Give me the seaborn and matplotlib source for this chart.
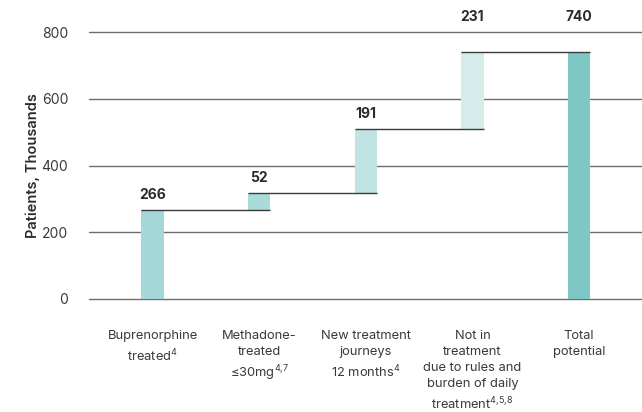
import matplotlib
matplotlib.use("Agg")
import matplotlib.pyplot as plt
import seaborn as sns
import numpy as np
import pandas as pd

# Waterfall steps (patients, thousands)
categories = [
    "Buprenorphine\ntreated$^{4}$",
    "Methadone-\ntreated\n≤30mg$^{4{,}7}$",
    "New treatment\njourneys\n12 months$^{4}$",
    "Not in\ntreatment\ndue to rules and\nburden of daily\ntreatment$^{4{,}5{,}8}$",
    "Total\npotential",
]
increments = [266, 52, 191, 231, 740]
is_total = [False, False, False, False, True]
value_labels = ["266", "52", "191", "231", "740"]
bar_colors = ["#a3d7d8", "#a9dbd8", "#c0e4e3", "#d6ecea", "#7ec7c5"]
y_ticks = [0, 200, 400, 600, 800]

# floating bases: running total for steps, zero for the total bar
bases = []
running = 0
for inc, tot in zip(increments, is_total):
    if tot:
        bases.append(0)
    else:
        bases.append(running)
        running += inc
tops = [b + h for b, h in zip(bases, increments)]

sns.set_theme(style="white")
plt.rcParams["font.family"] = ["Inter", "DejaVu Sans"]
plt.rcParams["mathtext.fontset"] = "custom"
plt.rcParams["mathtext.rm"] = "Inter"
plt.rcParams["mathtext.it"] = "Inter"
plt.rcParams["mathtext.bf"] = "Inter:bold"

fig = plt.figure(figsize=(6.42, 4.12), dpi=100)
ax = fig.add_axes([89 / 642, 1 - 299 / 412, 1 - 89 / 642, (299 - 32) / 412])

df = pd.DataFrame({"step": categories, "value": increments, "base": bases})
bar_w = 0.21
sns.barplot(data=df, x="step", y="value", bottom=df["base"].values,
            color=bar_colors[0], width=bar_w, saturation=1, ax=ax,
            zorder=3, linewidth=0, errorbar=None)
for patch, c in zip(ax.patches, bar_colors):
    patch.set_facecolor(c)

# gridlines
for yt in y_ticks:
    ax.axhline(yt, color="#6e6e6e", lw=1.0, zorder=1, clip_on=False)

# connectors between steps
xs = np.arange(len(categories))
for i in range(len(categories) - 1):
    ax.plot([xs[i] - bar_w / 2, xs[i + 1] + bar_w / 2], [tops[i], tops[i]],
            color="#3a3a3a", lw=1.0, zorder=4, solid_capstyle="butt")

# value labels
for x, top, lab in zip(xs, tops, value_labels):
    y = top if top + 60 < y_ticks[-1] else y_ticks[-1]
    ax.annotate(lab, (x, y), xytext=(0, 6), textcoords="offset points",
                ha="center", va="bottom", fontsize=10, fontweight="bold",
                color="#2b2b2b", annotation_clip=False)

ax.set_xlim(-0.596, 4.59)
ax.set_ylim(0, 800)
ax.set_yticks(y_ticks)
ax.set_yticklabels([str(t) for t in y_ticks], fontsize=10, color="#3a3a3a")
ax.tick_params(axis="y", length=0, pad=15)
ax.tick_params(axis="x", length=0, pad=22)
ax.set_xticks(xs)
ax.set_xticklabels(categories, fontsize=9.3, color="#3a3a3a",
                   linespacing=1.45, va="top", ha="center")
ax.set_xlabel("")
ax.set_ylabel("Patients, Thousands", fontsize=10.5, fontweight="semibold",
              color="#2b2b2b", labelpad=1)
for s in ax.spines.values():
    s.set_visible(False)

fig.savefig("out.png", dpi=100)
